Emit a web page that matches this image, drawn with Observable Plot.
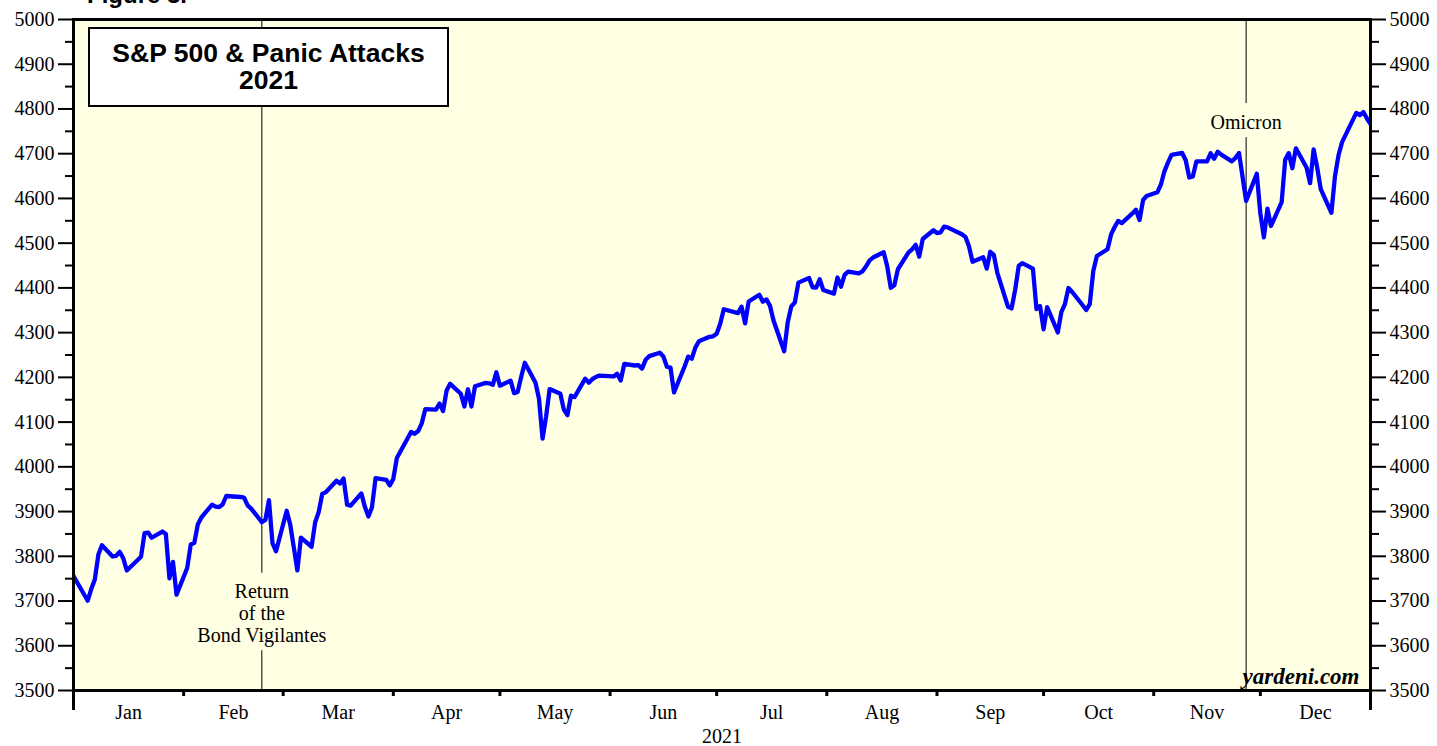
<!DOCTYPE html>
<html>
<head>
<meta charset="utf-8">
<script src="https://cdn.jsdelivr.net/npm/d3@7"></script>
<script src="https://cdn.jsdelivr.net/npm/@observablehq/plot@0.6"></script>
<style>
  html, body { margin: 0; padding: 0; background: #ffffff; }
  #wrap { position: relative; width: 1437px; height: 746px; overflow: hidden; }
  #fig { position: absolute; left: 87px; top: -17px; font: bold 24px "Liberation Sans", Arial, sans-serif; line-height: 24px; color: #000; white-space: nowrap; }
  #titlebox { position: absolute; left: 88px; top: 27px; width: 361px; height: 80px; box-sizing: border-box;
    border: 2px solid #000; background: #fff; text-align: center; padding-top: 11px;
    font: bold 26.5px "Liberation Sans", Arial, sans-serif; line-height: 27px; color: #000; }
</style>
</head>
<body>
<div id="wrap">
  <div id="chart"></div>
  <div id="fig">Figure 3.</div>
  <div id="titlebox">S&amp;P 500 &amp; Panic Attacks<br>2021</div>
</div>
<script>
// S&P 500 daily closes, 2021 (first point: 2020 year-end close)
const dates = [
  "2020-12-31","2021-01-04","2021-01-05","2021-01-06","2021-01-07","2021-01-08","2021-01-11","2021-01-12","2021-01-13","2021-01-14","2021-01-15",
  "2021-01-19","2021-01-20","2021-01-21","2021-01-22","2021-01-25","2021-01-26","2021-01-27","2021-01-28","2021-01-29",
  "2021-02-01","2021-02-02","2021-02-03","2021-02-04","2021-02-05","2021-02-08","2021-02-09","2021-02-10","2021-02-11","2021-02-12",
  "2021-02-16","2021-02-17","2021-02-18","2021-02-19","2021-02-22","2021-02-23","2021-02-24","2021-02-25","2021-02-26",
  "2021-03-01","2021-03-02","2021-03-03","2021-03-04","2021-03-05","2021-03-08","2021-03-09","2021-03-10","2021-03-11","2021-03-12",
  "2021-03-15","2021-03-16","2021-03-17","2021-03-18","2021-03-19","2021-03-22","2021-03-23","2021-03-24","2021-03-25","2021-03-26",
  "2021-03-29","2021-03-30","2021-03-31",
  "2021-04-01","2021-04-05","2021-04-06","2021-04-07","2021-04-08","2021-04-09","2021-04-12","2021-04-13","2021-04-14","2021-04-15","2021-04-16",
  "2021-04-19","2021-04-20","2021-04-21","2021-04-22","2021-04-23","2021-04-26","2021-04-27","2021-04-28","2021-04-29","2021-04-30",
  "2021-05-03","2021-05-04","2021-05-05","2021-05-06","2021-05-07","2021-05-10","2021-05-11","2021-05-12","2021-05-13","2021-05-14",
  "2021-05-17","2021-05-18","2021-05-19","2021-05-20","2021-05-21","2021-05-24","2021-05-25","2021-05-26","2021-05-27","2021-05-28",
  "2021-06-01","2021-06-02","2021-06-03","2021-06-04","2021-06-07","2021-06-08","2021-06-09","2021-06-10","2021-06-11",
  "2021-06-14","2021-06-15","2021-06-16","2021-06-17","2021-06-18","2021-06-21","2021-06-22","2021-06-23","2021-06-24","2021-06-25",
  "2021-06-28","2021-06-29","2021-06-30",
  "2021-07-01","2021-07-02","2021-07-06","2021-07-07","2021-07-08","2021-07-09","2021-07-12","2021-07-13","2021-07-14","2021-07-15","2021-07-16",
  "2021-07-19","2021-07-20","2021-07-21","2021-07-22","2021-07-23","2021-07-26","2021-07-27","2021-07-28","2021-07-29","2021-07-30",
  "2021-08-02","2021-08-03","2021-08-04","2021-08-05","2021-08-06","2021-08-09","2021-08-10","2021-08-11","2021-08-12","2021-08-13",
  "2021-08-16","2021-08-17","2021-08-18","2021-08-19","2021-08-20","2021-08-23","2021-08-24","2021-08-25","2021-08-26","2021-08-27",
  "2021-08-30","2021-08-31",
  "2021-09-01","2021-09-02","2021-09-03","2021-09-07","2021-09-08","2021-09-09","2021-09-10","2021-09-13","2021-09-14","2021-09-15","2021-09-16","2021-09-17",
  "2021-09-20","2021-09-21","2021-09-22","2021-09-23","2021-09-24","2021-09-27","2021-09-28","2021-09-29","2021-09-30",
  "2021-10-01","2021-10-04","2021-10-05","2021-10-06","2021-10-07","2021-10-08","2021-10-11","2021-10-12","2021-10-13","2021-10-14","2021-10-15",
  "2021-10-18","2021-10-19","2021-10-20","2021-10-21","2021-10-22","2021-10-25","2021-10-26","2021-10-27","2021-10-28","2021-10-29",
  "2021-11-01","2021-11-02","2021-11-03","2021-11-04","2021-11-05","2021-11-08","2021-11-09","2021-11-10","2021-11-11","2021-11-12",
  "2021-11-15","2021-11-16","2021-11-17","2021-11-18","2021-11-19","2021-11-22","2021-11-23","2021-11-24","2021-11-26","2021-11-29","2021-11-30",
  "2021-12-01","2021-12-02","2021-12-03","2021-12-06","2021-12-07","2021-12-08","2021-12-09","2021-12-10","2021-12-13","2021-12-14","2021-12-15",
  "2021-12-16","2021-12-17","2021-12-20","2021-12-21","2021-12-22","2021-12-23","2021-12-27","2021-12-28","2021-12-29","2021-12-30","2021-12-31"
];
const closes = [
  3756.07,3700.65,3726.86,3748.14,3803.79,3824.68,3799.61,3801.19,3809.84,3795.54,3768.25,
  3798.91,3851.85,3853.07,3841.47,3855.36,3849.62,3750.77,3787.38,3714.24,
  3773.86,3826.31,3830.17,3871.74,3886.83,3915.59,3911.23,3909.88,3916.38,3934.83,
  3932.59,3931.33,3913.97,3906.71,3876.50,3881.37,3925.43,3829.34,3811.15,
  3901.82,3870.29,3819.72,3768.47,3841.94,3821.35,3875.44,3898.81,3939.34,3943.34,
  3968.94,3962.71,3974.12,3915.46,3913.10,3940.59,3910.52,3889.14,3909.52,3974.54,
  3971.09,3958.55,3972.89,
  4019.87,4077.91,4073.94,4079.95,4097.17,4128.80,4127.99,4141.59,4124.66,4170.42,4185.47,
  4163.26,4134.94,4173.42,4134.98,4180.17,4187.62,4186.72,4183.18,4211.47,4181.17,
  4192.66,4164.66,4167.59,4201.62,4232.60,4188.43,4152.10,4063.04,4112.50,4173.85,
  4163.29,4127.83,4115.68,4159.12,4155.86,4197.05,4188.13,4195.99,4200.88,4204.11,
  4202.04,4208.12,4192.85,4229.89,4226.52,4227.26,4219.55,4239.18,4247.44,
  4255.15,4246.59,4223.70,4221.86,4166.45,4224.79,4246.44,4241.84,4266.49,4280.70,
  4290.61,4291.80,4297.50,
  4319.94,4352.34,4343.54,4358.13,4320.82,4369.55,4384.63,4369.21,4374.30,4360.03,4327.16,
  4258.49,4323.06,4358.69,4367.48,4411.79,4422.30,4401.46,4400.64,4419.15,4395.26,
  4387.16,4423.15,4402.66,4429.10,4436.52,4432.35,4436.75,4447.70,4460.83,4468.00,
  4479.71,4448.08,4400.27,4405.80,4441.67,4479.53,4486.23,4496.19,4470.00,4509.37,
  4528.79,4522.68,
  4524.09,4536.95,4535.43,4520.03,4514.07,4493.28,4458.58,4468.73,4443.05,4480.70,4473.75,4432.99,
  4357.73,4354.19,4395.64,4448.98,4455.48,4443.11,4352.63,4359.46,4307.54,
  4357.04,4300.46,4345.72,4363.55,4399.76,4391.34,4361.19,4350.65,4363.80,4438.26,4471.37,
  4486.46,4519.63,4536.19,4549.78,4544.90,4566.48,4574.79,4551.68,4596.42,4605.38,
  4613.67,4630.65,4660.57,4680.06,4697.53,4701.70,4685.25,4646.71,4649.27,4682.85,
  4682.80,4700.90,4688.67,4704.54,4697.96,4682.94,4690.70,4701.46,4594.62,4655.27,4567.00,
  4513.04,4577.10,4538.43,4591.67,4686.75,4701.21,4667.45,4712.02,4668.97,4634.09,4709.85,
  4668.67,4620.64,4568.02,4649.23,4696.56,4725.79,4791.19,4786.35,4793.06,4778.73,4766.18
];

const yMajor = d3.range(3500, 5001, 100);
const yMinor = d3.range(3550, 5000, 100);
const monthStarts = d3.utcMonths(new Date("2021-01-01"), new Date("2022-01-02"));
const monthNames = ["Jan","Feb","Mar","Apr","May","Jun","Jul","Aug","Sep","Oct","Nov","Dec"];

// Event annotations
const eventDates = ["2021-02-22", "2021-11-26"];
const eventLabels = ["Return\nof the\nBond Vigilantes", "Omicron"];
const eventLabelY = [3674, 4770];
const eventGapTop = [3762, 4812];
const eventGapBottom = [3589, 4736];

// closes are plotted at the end of their trading day
const endOfDay = d => d3.utcDay.offset(new Date(d), 1);
const series = dates.map((d, i) => ({date: endOfDay(d), close: closes[i]}));
const events = eventDates.map((d, i) => ({
  date: endOfDay(d), label: eventLabels[i], y: eventLabelY[i], gTop: eventGapTop[i], gBot: eventGapBottom[i]
}));
const monthMids = monthStarts.slice(0, 12).map((m, i) => new Date((+m + +monthStarts[i + 1]) / 2));
const xStart = monthStarts[0], xEnd = monthStarts[12];

const serif = "'Liberation Serif', 'Times New Roman', serif";

const chart = Plot.plot({
  width: 1437,
  height: 746,
  marginLeft: 73,
  marginRight: 67,
  marginTop: 19,
  marginBottom: 56,
  style: {fontFamily: serif, fontSize: "20px", color: "#000", background: "transparent"},
  x: {type: "utc", domain: [xStart, xEnd]},
  y: {domain: [3500, 5000]},
  marks: [
    Plot.frame({fill: "#FFFFE4", stroke: null}),
    Plot.ruleX(events, {x: "date", y1: "gTop", y2: 5000, stroke: "#000", strokeWidth: 1}),
    Plot.ruleX(events, {x: "date", y1: 3500, y2: "gBot", stroke: "#000", strokeWidth: 1}),
    Plot.text(events, {x: "date", y: "y", text: "label", fontSize: 20, lineHeight: 1.1, fill: "#000", fontFamily: serif}),
    Plot.line(series, {x: "date", y: "close", stroke: "#0000FF", strokeWidth: 4.3, strokeLinejoin: "round", curve: "linear", clip: true}),
    Plot.text(["yardeni.com"], {frameAnchor: "bottom-right", dx: -11, dy: -7, lineAnchor: "bottom", textAnchor: "end",
      fontSize: 23, fontWeight: "bold", fontStyle: "italic", fontFamily: serif, fill: "#000"}),
    Plot.frame({stroke: "#000", strokeWidth: 3}),
    Plot.axisY(yMajor, {anchor: "left", tickSize: 15, tickPadding: 4, strokeWidth: 2, tickFormat: d => String(d), label: null, fontSize: 20}),
    Plot.axisY(yMinor, {anchor: "left", tickSize: 8, strokeWidth: 2, tickFormat: () => "", label: null}),
    Plot.axisY(yMajor, {anchor: "right", tickSize: 15, tickPadding: 4, strokeWidth: 2, tickFormat: d => String(d), label: null, fontSize: 20}),
    Plot.axisY(yMinor, {anchor: "right", tickSize: 8, strokeWidth: 2, tickFormat: () => "", label: null}),
    Plot.axisX(monthStarts.slice(1, 12), {anchor: "bottom", tickSize: 6, strokeWidth: 3, tickFormat: () => "", label: null}),
    Plot.axisX([xStart, xEnd], {anchor: "bottom", tickSize: 20, strokeWidth: 3, tickFormat: () => "", label: null}),
    Plot.axisX(monthMids, {anchor: "bottom", tickSize: 0, tickPadding: 14, tickFormat: (d, i) => monthNames[i], label: null, fontSize: 20}),
    Plot.text(["2021"], {frameAnchor: "bottom", dy: 52, fontSize: 20, fill: "#000", fontFamily: serif})
  ]
});
document.getElementById("chart").appendChild(chart);
</script>
</body>
</html>
